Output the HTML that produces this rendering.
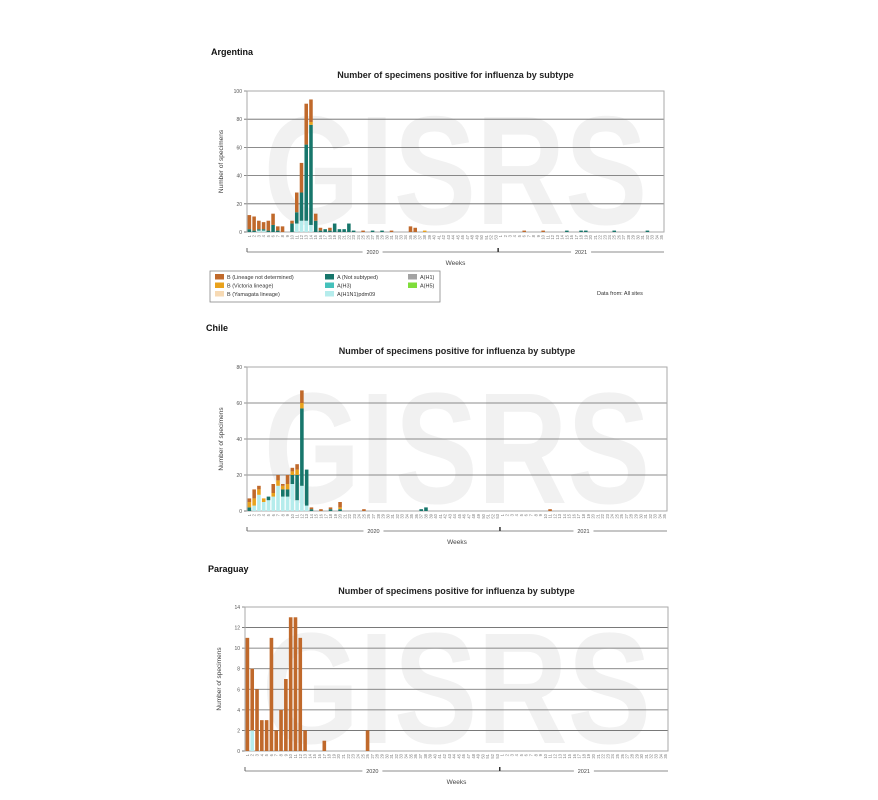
<!DOCTYPE html>
<html><head><meta charset="utf-8"><style>
body{margin:0;background:#fff;width:878px;height:800px;overflow:hidden;font-family:"Liberation Sans",sans-serif}
svg{position:absolute;left:0;top:0}
</style></head><body>
<svg id="s" width="878" height="800" xmlns="http://www.w3.org/2000/svg" font-family="Liberation Sans, sans-serif"></svg>
<script>
const C={bnd:'#c0692b',vic:'#e9a21c',yam:'#f7dab4',not:'#17766b',h3:'#45c1bb',h1n1:'#b5ecec',h1:'#a3a3a3',h5:'#7fdd3b'};
const N=88;
let out='';
function chart(o){
  const {x0,x1,yT,yB,max,step,title,titleY,name,nameX,nameY,bars}=o;
  const w=(x1-x0)/N, H=yB-yT;
  // watermark
  out+=`<text x="${(x0+x1)/2}" y="${yB-8}" text-anchor="middle" font-size="${H*1.1}" font-weight="bold" fill="#f1f1f1" textLength="${(x1-x0)*0.92}" lengthAdjust="spacingAndGlyphs">GISRS</text>`;
  out+=`<text x="${nameX}" y="${nameY}" font-size="9" font-weight="bold" fill="#111">${name}</text>`;
  out+=`<text x="${(x0+x1)/2}" y="${titleY}" text-anchor="middle" font-size="9" font-weight="bold" fill="#222">${title}</text>`;
  for(let v=0;v<=max;v+=step){const y=yB-v/max*H;
    out+=`<line x1="${x0-3}" x2="${x1}" y1="${y}" y2="${y}" stroke="${v==0?'#777':'#666'}" stroke-width="${v==0?1:0.8}"/>`;
    out+=`<text x="${x0-5}" y="${y+2}" text-anchor="end" font-size="5" fill="#555">${v}</text>`;}
  out+=`<rect x="${x0}" y="${yT}" width="${x1-x0}" height="${H}" fill="none" stroke="#aaa" stroke-width="1"/>`;
  out+=`<text transform="translate(${x0-24},${(yT+yB)/2}) rotate(-90)" text-anchor="middle" font-size="6.5" fill="#444">Number of specimens</text>`;
  for(const k in bars){const i=+k;let base=0;
    for(const [c,v] of bars[k]){const h=v/max*H;
      out+=`<rect x="${x0+(i-1)*w+0.6}" y="${yB-(base+v)/max*H}" width="${w-1.2}" height="${h}" fill="${C[c]}"/>`;base+=v;}}
  for(let i=1;i<=N;i++){const wk=i<=53?i:i-53;const x=x0+(i-0.5)*w;
    out+=`<text transform="translate(${x+1.5},${yB+3}) rotate(-90)" text-anchor="end" font-size="4.2" fill="#777">${wk}</text>`;}
  const ly=yB+20, xb=x0+53*w;
  out+=`<line x1="${x0}" x2="${x1}" y1="${ly}" y2="${ly}" stroke="#666" stroke-width="0.8"/>`;
  out+=`<line x1="${x0}" x2="${x0}" y1="${ly-4}" y2="${ly}" stroke="#666"/><line x1="${xb}" x2="${xb}" y1="${ly-4}" y2="${ly}" stroke="#333" stroke-width="1.5"/>`;
  out+=`<rect x="${(x0+xb)/2-10}" y="${ly-4}" width="20" height="8" fill="#fff"/><text x="${(x0+xb)/2}" y="${ly+2}" text-anchor="middle" font-size="5.5" fill="#444">2020</text>`;
  out+=`<rect x="${(xb+x1)/2-10}" y="${ly-4}" width="20" height="8" fill="#fff"/><text x="${(xb+x1)/2}" y="${ly+2}" text-anchor="middle" font-size="5.5" fill="#444">2021</text>`;
  out+=`<text x="${(x0+x1)/2}" y="${ly+13}" text-anchor="middle" font-size="6.5" fill="#444">Weeks</text>`;
}
const B=v=>[['bnd',v]];
chart({x0:247,x1:664,yT:91,yB:232,max:100,step:20,title:'Number of specimens positive for influenza by subtype',titleY:78,name:'Argentina',nameX:211,nameY:55,
bars:{1:[['not',2],['bnd',10]],2:[['not',1],['bnd',10]],3:[['h1n1',1],['not',1],['bnd',6]],4:[['h1n1',1],['not',1],['bnd',5]],5:[['not',1],['bnd',7]],6:[['not',5],['bnd',8]],7:[['not',1],['bnd',3]],8:B(4),10:[['not',6],['bnd',2]],
11:[['h1n1',6],['not',8],['bnd',14]],12:[['h1n1',8],['not',20],['bnd',21]],13:[['h1n1',8],['not',54],['bnd',29]],14:[['h1n1',5],['not',71],['vic',2],['bnd',16]],15:[['not',8],['bnd',5]],
16:[['not',1],['bnd',2]],17:[['not',2]],18:[['not',1],['bnd',2]],19:[['not',6]],20:[['not',2]],21:[['not',2]],22:[['not',6]],23:[['not',1]],25:B(1),27:[['not',1]],29:[['not',1]],31:B(1),35:B(4),36:B(3),38:[['vic',1]],
59:[['bnd',1]],63:B(1),68:[['not',1]],71:[['not',1]],72:[['not',1]],78:[['not',1]],85:[['not',1]]}});
chart({x0:247,x1:667,yT:367,yB:511,max:80,step:20,title:'Number of specimens positive for influenza by subtype',titleY:354,name:'Chile',nameX:206,nameY:331,
bars:{1:[['not',2],['vic',3],['bnd',2]],2:[['h1n1',3],['vic',4],['bnd',5]],3:[['h1n1',9],['vic',3],['bnd',2]],4:[['h1n1',5],['vic',2]],5:[['h1n1',6],['not',2]],6:[['h1n1',8],['vic',2],['bnd',5]],
7:[['h1n1',14],['vic',3],['bnd',3]],8:[['h1n1',8],['not',4],['vic',2],['bnd',1]],9:[['h1n1',8],['not',4],['vic',3],['bnd',5]],10:[['h1n1',15],['not',5],['vic',2],['bnd',2]],
11:[['h1n1',6],['not',14],['vic',3],['bnd',3]],12:[['h1n1',14],['not',43],['vic',3],['bnd',7]],13:[['h1n1',3],['not',20]],14:[['not',1],['bnd',1]],16:B(1),18:[['not',1],['bnd',1]],20:[['not',1],['vic',1],['bnd',3]],25:B(1),37:[['not',1]],38:[['not',2]],64:B(1)}});
chart({x0:245,x1:668,yT:607,yB:751,max:14,step:2,title:'Number of specimens positive for influenza by subtype',titleY:594,name:'Paraguay',nameX:208,nameY:572,
bars:{1:B(11),2:[['h1n1',2],['bnd',6]],3:B(6),4:B(3),5:B(3),6:B(11),7:B(2),8:B(4),9:B(7),10:B(13),11:B(13),12:B(11),13:B(2),17:B(1),26:B(2)}});
// legend
const L=[[212,'bnd','B (Lineage not determined)'],[212,'vic','B (Victoria lineage)'],[212,'yam','B (Yamagata lineage)'],[322,'not','A (Not subtyped)'],[322,'h3','A(H3)'],[322,'h1n1','A(H1N1)pdm09'],[405,'h1','A(H1)'],[405,'h5','A(H5)']];
out+=`<rect x="210" y="271" width="230" height="31" fill="#fff" stroke="#888" stroke-width="0.8"/>`;
const rows=[0,1,2,0,1,2,0,1];
L.forEach((l,i)=>{const y=274+rows[i]*8.5;out+=`<rect x="${l[0]+3}" y="${y}" width="9" height="5.5" fill="${C[l[1]]}"/><text x="${l[0]+15}" y="${y+5}" font-size="5.5" fill="#333">${l[2]}</text>`;});
out+=`<text x="597" y="295" font-size="5.5" fill="#333">Data from: All sites</text>`;
document.getElementById('s').innerHTML=out;
</script>
</body></html>
